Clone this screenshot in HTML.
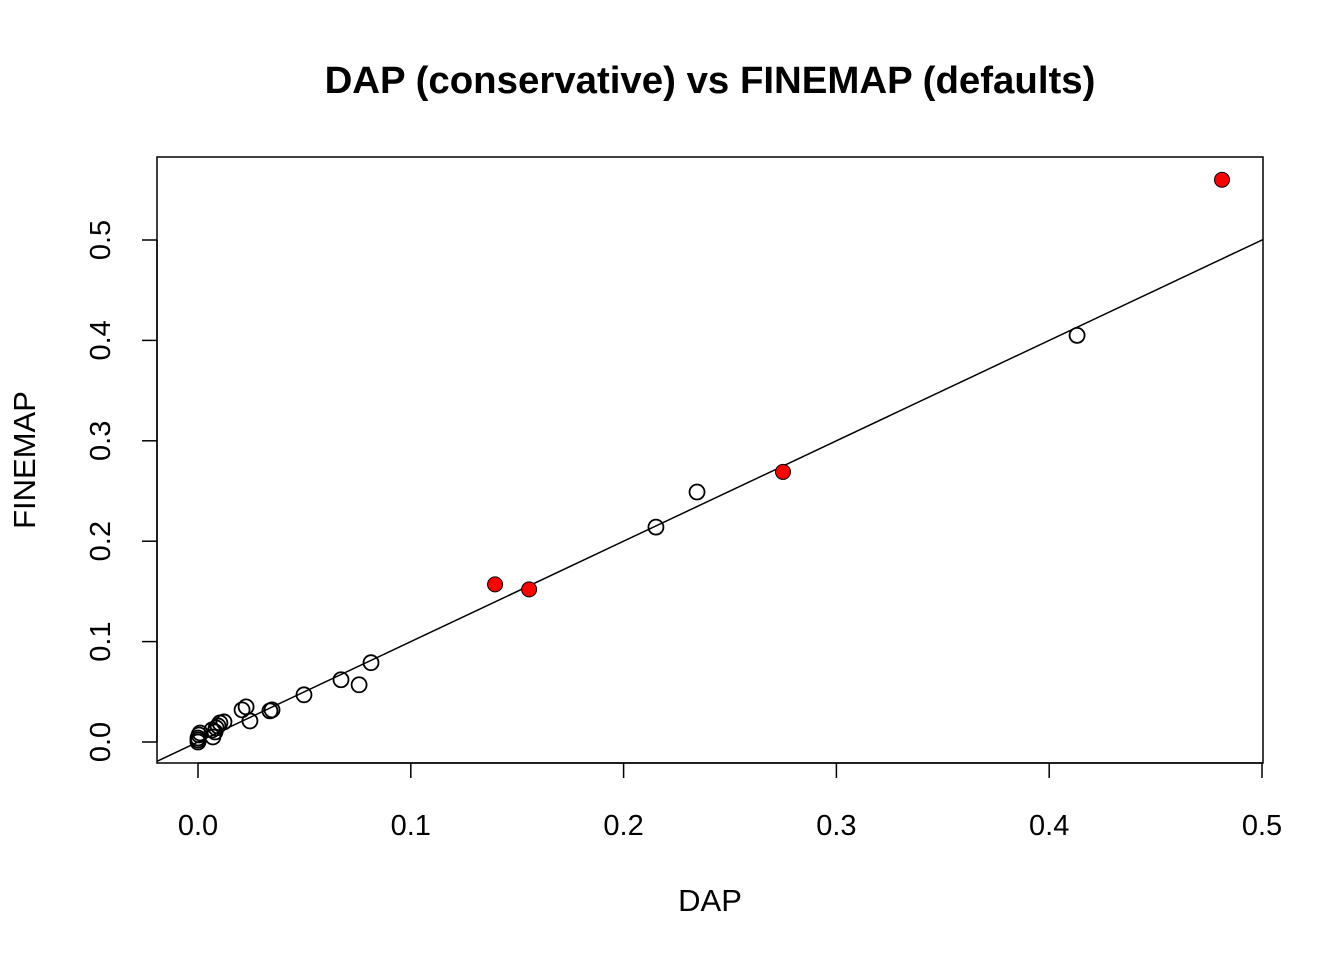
<!DOCTYPE html>
<html><head><meta charset="utf-8"><style>body{margin:0;background:#fff}svg{display:block;font-family:"Liberation Sans",Arial,sans-serif}</style></head>
<body>
<svg id="chart" width="1344" height="960" viewBox="0 0 1344 960">
<text x="710" y="93" text-anchor="middle" font-size="38.4" font-weight="bold">DAP (conservative) vs FINEMAP (defaults)</text>
<rect x="157" y="157" width="1106" height="606" fill="none" stroke="#000" stroke-width="1.5"/>
<text x="710" y="911" text-anchor="middle" font-size="31">DAP</text>
<text transform="translate(35,460) rotate(-90)" text-anchor="middle" font-size="31">FINEMAP</text>
<g id="axes"></g><g id="marks"></g>
</svg>
<script>
const xTicks=[0,0.1,0.2,0.3,0.4,0.5];
const yTicks=[0,0.1,0.2,0.3,0.4,0.5];
const openX=[0,0,0.0005,0.001,0,0.007,0.0066,0.008,0.0094,0.0103,0.0122,0.0085,0.0207,0.0226,0.0244,0.0338,0.0348,0.0498,0.0672,0.0757,0.0813,0.2152,0.2345,0.4131];
const openY=[0,0.004,0.007,0.009,0.002,0.005,0.012,0.010,0.016,0.019,0.020,0.014,0.032,0.035,0.021,0.031,0.032,0.047,0.062,0.057,0.079,0.214,0.249,0.405];
const redX=[0.1396,0.1556,0.2749,0.4812];
const redY=[0.157,0.152,0.269,0.560];
const NS='http://www.w3.org/2000/svg';
const sx=v=>198+v*2128, sy=v=>742-v*1004;
const axes=document.getElementById('axes'), marks=document.getElementById('marks');
function mk(tag,attrs,parent){const e=document.createElementNS(NS,tag);for(const k in attrs)e.setAttribute(k,attrs[k]);parent.appendChild(e);return e;}
mk('line',{x1:sx(0),x2:sx(0.5),y1:763,y2:763,stroke:'#000','stroke-width':1.5},axes);
mk('line',{x1:157,x2:157,y1:sy(0),y2:sy(0.5),stroke:'#000','stroke-width':1.5},axes);
xTicks.forEach(t=>{
 const l=mk('line',{x1:sx(t),x2:sx(t),y1:763,y2:778,stroke:'#000','stroke-width':1.5},axes);
 
 
 const tx=mk('text',{x:sx(t),y:835,'text-anchor':'middle','font-size':29},axes);tx.textContent=t.toFixed(1);
 
 
});
yTicks.forEach(t=>{
 const l=mk('line',{x1:142,x2:157,y1:sy(t),y2:sy(t),stroke:'#000','stroke-width':1.5},axes);
 
 
 const tx=mk('text',{transform:`translate(110,${sy(t)}) rotate(-90)`,'text-anchor':'middle','font-size':29},axes);tx.textContent=t.toFixed(1);
 
 
});
const x0=(157-198)/2128, x1=(1263-198)/2128;
const ref=mk('line',{x1:sx(x0),y1:sy(x0),x2:sx(x1),y2:sy(x1),stroke:'#000','stroke-width':1.5},marks);


openX.forEach((v,i)=>{
 const c=mk('circle',{cx:sx(v),cy:sy(openY[i]),r:7.5,fill:'none',stroke:'#000','stroke-width':1.8},marks);
 
 
});
redX.forEach((v,i)=>{
 const c=mk('circle',{cx:sx(v),cy:sy(redY[i]),r:7.5,fill:'#f00',stroke:'#000','stroke-width':1},marks);
 
 
});
</script>
</body></html>
